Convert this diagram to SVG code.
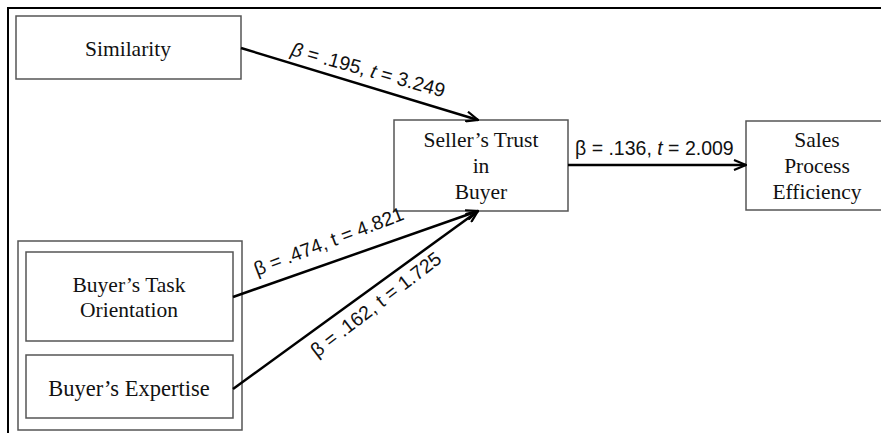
<svg xmlns="http://www.w3.org/2000/svg" width="881" height="433" viewBox="0 0 881 433">
<defs>
<style>
.box{fill:#fff;stroke:#555;stroke-width:1.5}
.nt{font-family:"Liberation Serif","Times New Roman",serif;font-size:21.5px;fill:#111;text-anchor:middle}
.lb{font-family:"Liberation Sans",Arial,sans-serif;font-size:19.5px;fill:#111}
.edge{stroke:#000;stroke-width:2.5;fill:none;marker-end:url(#arr)}
.it{font-style:italic}
</style>
<marker id="arr" viewBox="0 0 14 12" refX="13" refY="6" markerWidth="14" markerHeight="12" markerUnits="userSpaceOnUse" orient="auto">
<path d="M1,1 L13,6 L1,11" fill="none" stroke="#000" stroke-width="2.2"/>
</marker>
</defs>
<rect width="881" height="433" fill="#fff"/>
<path d="M8,433 L8,8 L881,8" fill="none" stroke="#000" stroke-width="2"/>

<g id="similarity">
<rect class="box" x="16" y="16" width="225" height="63"/>
<text class="nt" x="128" y="56">Similarity</text>
</g>
<g id="seller-trust">
<rect class="box" x="394" y="120" width="174" height="91"/>
<text class="nt" x="481" y="147">Seller’s Trust</text>
<text class="nt" x="481" y="173">in</text>
<text class="nt" x="481" y="199">Buyer</text>
</g>
<g id="sales-efficiency">
<rect class="box" x="746" y="121" width="140" height="89"/>
<text class="nt" x="817" y="147">Sales</text>
<text class="nt" x="817" y="173">Process</text>
<text class="nt" x="817" y="199">Efficiency</text>
</g>
<g id="buyer-group">
<rect class="box" x="18" y="241" width="224" height="189"/>
</g>
<g id="task-orientation">
<rect class="box" x="26" y="252" width="207" height="89"/>
<text class="nt" x="129" y="292">Buyer’s Task</text>
<text class="nt" x="129" y="317">Orientation</text>
</g>
<g id="expertise">
<rect class="box" x="26" y="355" width="207" height="63"/>
<text class="nt" x="129" y="395.5" style="font-size:22.5px">Buyer’s Expertise</text>
</g>

<g id="connectors">
<line class="edge" x1="241" y1="48" x2="478" y2="120"/>
<line class="edge" x1="568" y1="165" x2="746" y2="165"/>
<line class="edge" x1="233" y1="297" x2="478" y2="211"/>
<line class="edge" x1="233" y1="389" x2="478" y2="211"/>
<text class="lb" transform="translate(290,55) rotate(15.5)"><tspan class="it">β</tspan> = .195, <tspan class="it">t</tspan> = 3.249</text>
<text class="lb" x="575" y="155">β = .136, <tspan class="it">t</tspan> = 2.009</text>
<text class="lb" transform="translate(257,276) rotate(-21)">β = .474, t = 4.821</text>
<text class="lb" transform="translate(317,358) rotate(-37.5)">β = .162, t = 1.725</text>
</g>
</svg>
